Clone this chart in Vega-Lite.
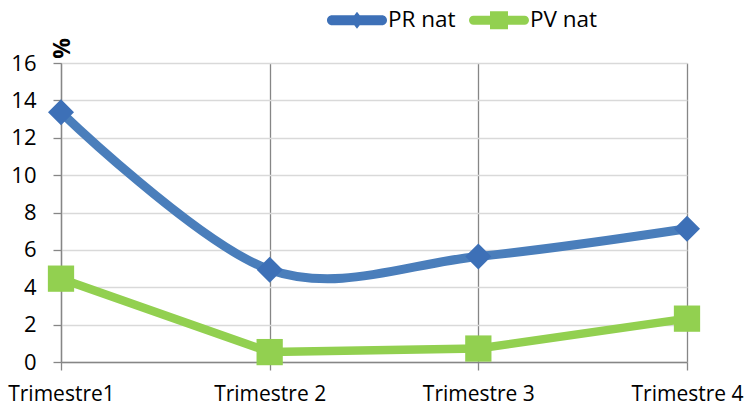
{
  "$schema": "https://vega.github.io/schema/vega-lite/v6.json",
  "autosize": "none",
  "width": 626,
  "height": 299,
  "padding": {"left": 61, "top": 63, "right": 57, "bottom": 44},
  "background": "white",
  "config": {"font": "Open Sans", "view": {"stroke": null}},
  "data": {
    "values": [
      {"quarter": "Trimestre1", "series": "PR nat", "value": 13.37},
      {"quarter": "Trimestre 2", "series": "PR nat", "value": 4.94},
      {"quarter": "Trimestre 3", "series": "PR nat", "value": 5.65},
      {"quarter": "Trimestre 4", "series": "PR nat", "value": 7.13},
      {"quarter": "Trimestre1", "series": "PV nat", "value": 4.46},
      {"quarter": "Trimestre 2", "series": "PV nat", "value": 0.53},
      {"quarter": "Trimestre 3", "series": "PV nat", "value": 0.72},
      {"quarter": "Trimestre 4", "series": "PV nat", "value": 2.32}
    ]
  },
  "encoding": {
    "x": {
      "field": "quarter",
      "type": "ordinal",
      "sort": null,
      "scale": {"type": "point", "padding": 0},
      "axis": {
        "title": null,
        "labelAngle": 0,
        "grid": true,
        "gridColor": "#868686",
        "gridWidth": 1.3,
        "domainColor": "#868686",
        "domainWidth": 1.3,
        "tickColor": "#868686",
        "tickWidth": 1.3,
        "tickSize": 8,
        "labelFontSize": 21,
        "labelPadding": 13,
        "labelColor": "#000000"
      }
    },
    "y": {
      "field": "value",
      "type": "quantitative",
      "scale": {"domain": [0, 16]},
      "axis": {
        "values": [0, 2, 4, 6, 8, 10, 12, 14, 16],
        "title": "%",
        "titleFontSize": 23,
        "titleFontWeight": "bold",
        "titleColor": "#000000",
        "titleAngle": 270,
        "titleX": 1,
        "titleY": -15,
        "titleAlign": "center",
        "titleBaseline": "middle",
        "grid": true,
        "gridColor": "#d9d9d9",
        "gridWidth": 1.3,
        "domainColor": "#868686",
        "domainWidth": 1.3,
        "tickColor": "#868686",
        "tickWidth": 1.3,
        "tickSize": 8,
        "labelPadding": 17,
        "labelFontSize": 22,
        "labelColor": "#000000"
      }
    }
  },
  "layer": [
    {
      "transform": [{"filter": "datum.series === 'PR nat'"}],
      "mark": {"type": "line", "interpolate": "cardinal", "color": "#4a7ebb", "strokeWidth": 9, "strokeCap": "round", "strokeJoin": "round"}
    },
    {
      "transform": [{"filter": "datum.series === 'PV nat'"}],
      "mark": {"type": "line", "color": "#92d050", "strokeWidth": 8.5, "strokeCap": "round", "strokeJoin": "round"}
    },
    {
      "transform": [{"filter": "datum.series === 'PR nat'"}],
      "mark": {"type": "point", "shape": "diamond", "size": 676, "filled": true, "opacity": 1, "strokeWidth": 0},
      "encoding": {
        "color": {
          "field": "series",
          "type": "nominal",
          "scale": {"domain": ["PR nat", "PV nat"], "range": ["#3d70b7", "#92d050"]},
          "legend": {
            "title": null,
            "orient": "none",
            "legendX": 266,
            "legendY": -73,
            "direction": "horizontal",
            "columns": 2,
            "columnPadding": 13,
            "padding": 0,
            "symbolSize": 3600,
            "symbolStrokeWidth": 0,
            "symbolOpacity": 1,
            "labelFontSize": 22.5,
            "labelColor": "#000000",
            "labelOffset": 1,
            "encode": {
              "symbols": {
                "update": {
                  "shape": {"signal": "datum.value === 'PR nat' ? 'M-0.833,-0.167L0.833,-0.167A0.167,0.167 0 0 1 0.833,0.167L-0.833,0.167A0.167,0.167 0 0 1 -0.833,-0.167ZM0,-0.283L0.217,0L0,0.283L-0.217,0Z' : 'M-0.85,-0.15L0.85,-0.15A0.15,0.15 0 0 1 0.85,0.15L-0.85,0.15A0.15,0.15 0 0 1 -0.85,-0.15ZM-0.3,-0.3L0.3,-0.3L0.3,0.3L-0.3,0.3Z'"}
                }
              }
            }
          }
        }
      }
    },
    {
      "transform": [{"filter": "datum.series === 'PV nat'"}],
      "mark": {"type": "point", "shape": "square", "size": 690, "filled": true, "opacity": 1, "strokeWidth": 0},
      "encoding": {
        "color": {"field": "series", "type": "nominal"}
      }
    }
  ]
}
